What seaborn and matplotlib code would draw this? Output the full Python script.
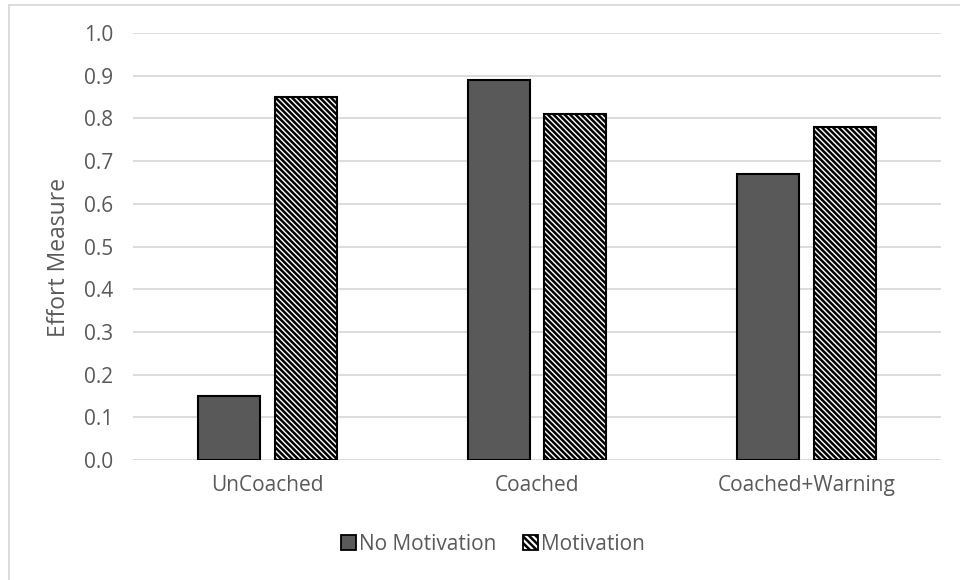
import matplotlib
matplotlib.use("Agg")
import matplotlib.pyplot as plt
from matplotlib.lines import Line2D
from matplotlib.patches import Patch
import seaborn as sns
import pandas as pd

categories = ["UnCoached", "Coached", "Coached+Warning"]
series_names = ["No Motivation", "Motivation"]
no_motivation = [0.15, 0.89, 0.67]
motivation = [0.85, 0.81, 0.78]
y_ticks = [0.0, 0.1, 0.2, 0.3, 0.4, 0.5, 0.6, 0.7, 0.8, 0.9, 1.0]

df = pd.DataFrame({
    "Condition": categories * 2,
    "Series": [series_names[0]] * 3 + [series_names[1]] * 3,
    "Effort": no_motivation + motivation,
})

sns.set_theme(style="white")
plt.rcParams["font.family"] = ["Open Sans", "DejaVu Sans"]
plt.rcParams["hatch.linewidth"] = 1.8
plt.rcParams["hatch.color"] = "black"

text_gray = "#595959"
grid_gray = "#d9d9d9"
hatch_pattern = "\\" * 6

fig = plt.figure(figsize=(9.6, 5.8), dpi=100)
ax = fig.add_axes([0.1385, 0.2069, 0.8417, 0.7362])

sns.barplot(data=df, x="Condition", y="Effort", hue="Series",
            order=categories, hue_order=series_names,
            palette=["#595959", "white"], width=0.57, gap=0.19,
            edgecolor="black", linewidth=1.5, saturation=1,
            errorbar=None, legend=False, ax=ax, zorder=3)

# hatch the Motivation bars
n = len(categories)
for i, bar in enumerate(ax.patches):
    if i >= n:
        bar.set_hatch(hatch_pattern)
        bar.set_facecolor("white")

ax.set_ylim(0, 1.0)
ax.set_xlim(-0.5, n - 0.5)
ax.set_yticks(y_ticks)
ax.set_yticklabels([f"{v:.1f}" for v in y_ticks])
ax.yaxis.grid(True, color=grid_gray, linewidth=1.3, zorder=0)
ax.set_axisbelow(True)
for s in ax.spines.values():
    s.set_visible(False)
ax.tick_params(axis="both", length=0, labelsize=15, labelcolor=text_gray)
ax.tick_params(axis="y", pad=14)
ax.tick_params(axis="x", pad=11)
ax.set_xlabel("")
ax.set_ylabel("")
fig.text(59 / 960, 1 - 257 / 580, "Effort Measure", rotation=90,
         ha="center", va="center", fontsize=16.5, color=text_gray)

handles = [
    Patch(facecolor="#595959", edgecolor="black", linewidth=1.3),
    Patch(facecolor="white", edgecolor="black", linewidth=1.3, hatch="\\" * 5),
]
fig.legend(handles, series_names, loc="center", bbox_to_anchor=(0.5135, 0.062),
           ncol=2, frameon=False, fontsize=15, labelcolor=text_gray,
           handlelength=0.72, handleheight=0.72, handletextpad=0.15,
           columnspacing=1.25)

# chart-area outline
fig.add_artist(Line2D([9 / 960, 1.0], [1 - 5 / 580, 1 - 5 / 580],
                      transform=fig.transFigure, color=grid_gray, linewidth=1.3))
fig.add_artist(Line2D([9 / 960, 9 / 960], [0.0, 1 - 5 / 580],
                      transform=fig.transFigure, color=grid_gray, linewidth=1.3))

fig.savefig("out.png", dpi=100)
